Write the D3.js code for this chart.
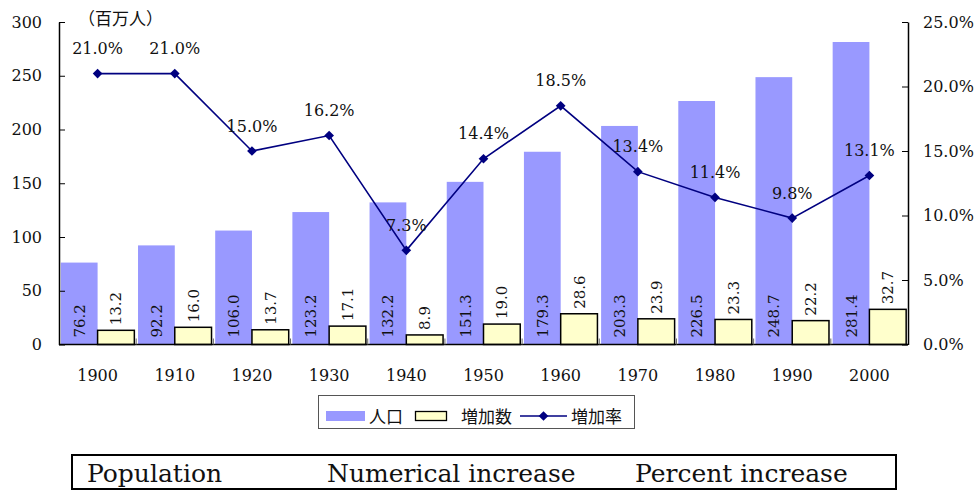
<!DOCTYPE html>
<html>
<head>
<meta charset="utf-8">
<script src="https://cdn.jsdelivr.net/npm/d3@7"></script>
<style>
  html, body { margin: 0; padding: 0; background: #fff; }
  svg { display: block; }
</style>
</head>
<body>
<svg id="chart" width="979" height="493"></svg>
<script>
// US population by decade (millions), numerical increase (millions), percent increase
const years = ["1900", "1910", "1920", "1930", "1940", "1950", "1960", "1970", "1980", "1990", "2000"];
const population = [76.2, 92.2, 106.0, 123.2, 132.2, 151.3, 179.3, 203.3, 226.5, 248.7, 281.4];
const increase = [13.2, 16.0, 13.7, 17.1, 8.9, 19.0, 28.6, 23.9, 23.3, 22.2, 32.7];
const rate = [21.0, 21.0, 15.0, 16.2, 7.3, 14.4, 18.5, 13.4, 11.4, 9.8, 13.1];
const leftTicks = [0, 50, 100, 150, 200, 250, 300];
const rightTicks = [0, 5, 10, 15, 20, 25];
const legendLabels = ["人口", "増加数", "増加率"];
const unitLabel = "（百万人）";
const captions = ["Population", "Numerical increase", "Percent increase"];

const SERIF = "'DejaVu Serif', serif";
const CJK = "'Noto Sans CJK JP', sans-serif";
const svg = d3.select("#chart");

const plot = { left: 59, right: 908, top: 22, bottom: 344.5 };

const x = d3.scaleBand().domain(years).range([plot.left, plot.right]).paddingInner(0).paddingOuter(0);
const inner = d3.scaleBand().domain(["pop", "inc"]).range([0, x.bandwidth()]).paddingInner(0).paddingOuter(0.05);
const yL = d3.scaleLinear().domain([0, 300]).range([plot.bottom, plot.top]);
const yR = d3.scaleLinear().domain([0, 25]).range([plot.bottom, plot.top]);

// population bars
svg.append("g").selectAll("rect").data(population).join("rect")
  .attr("x", (d, i) => x(years[i]) + inner("pop"))
  .attr("y", d => yL(d))
  .attr("width", inner.bandwidth())
  .attr("height", d => yL(0) - yL(d))
  .attr("fill", "#9999FF");

// increase bars
svg.append("g").selectAll("rect").data(increase).join("rect")
  .attr("x", (d, i) => x(years[i]) + inner("inc"))
  .attr("y", d => yL(d))
  .attr("width", inner.bandwidth())
  .attr("height", d => yL(0) - yL(d))
  .attr("fill", "#FFFFCC")
  .attr("stroke", "#000")
  .attr("stroke-width", 1.5);

// rotated value labels: population at the bar base, increase above the bar
svg.append("g").selectAll("text").data(population).join("text")
  .attr("transform", (d, i) => `translate(${x(years[i]) + inner("pop") + inner.bandwidth() / 2 + 5.5},${yL(0) - 7}) rotate(-90)`)
  .attr("font-family", SERIF).attr("font-size", 15).attr("fill", "#111")
  .text(d => d.toFixed(1));

svg.append("g").selectAll("text").data(increase).join("text")
  .attr("transform", (d, i) => `translate(${x(years[i]) + inner("inc") + inner.bandwidth() / 2 + 5.5},${yL(d) - 5}) rotate(-90)`)
  .attr("font-family", SERIF).attr("font-size", 15).attr("fill", "#111")
  .text(d => d.toFixed(1));

// category axis
const xAxis = svg.append("g").attr("transform", `translate(0,${plot.bottom})`);
xAxis.append("line").attr("x1", plot.left).attr("x2", plot.right).attr("stroke", "#000").attr("stroke-width", 1.5);
xAxis.selectAll("line.tick").data(years.slice(1)).join("line").attr("class", "tick")
  .attr("x1", d => x(d)).attr("x2", d => x(d)).attr("y1", 0).attr("y2", -6)
  .attr("stroke", "#666").attr("stroke-width", 1);
xAxis.selectAll("text").data(years).join("text")
  .attr("x", d => x(d) + x.bandwidth() / 2).attr("y", 36)
  .attr("text-anchor", "middle").attr("font-family", SERIF).attr("font-size", 16).attr("fill", "#111")
  .text(d => d);

// left axis
const leftAxis = svg.append("g").attr("transform", `translate(${plot.left},0)`)
  .call(d3.axisLeft(yL).tickValues(leftTicks).tickSizeInner(-6).tickSizeOuter(0).tickPadding(17));
leftAxis.select(".domain").attr("stroke-width", 1.5);
leftAxis.selectAll("text").attr("font-family", SERIF).attr("font-size", 16).attr("fill", "#111");

// right axis
const rightAxis = svg.append("g").attr("transform", `translate(${plot.right},0)`)
  .call(d3.axisRight(yR).tickValues(rightTicks).tickSizeInner(-6).tickSizeOuter(0).tickPadding(15)
    .tickFormat(d => d.toFixed(1) + "%"));
rightAxis.select(".domain").attr("stroke-width", 1.5);
rightAxis.selectAll("text").attr("font-family", SERIF).attr("font-size", 16).attr("fill", "#111");

// unit label
svg.append("text").attr("x", 78).attr("y", 25)
  .attr("font-family", CJK).attr("font-size", 17).attr("fill", "#111")
  .text(unitLabel);

// percent increase line
const cx = i => x(years[i]) + x.bandwidth() / 2;
const line = d3.line().x((d, i) => cx(i)).y(d => yR(d));
svg.append("path").datum(rate).attr("d", line)
  .attr("fill", "none").attr("stroke", "#000080").attr("stroke-width", 1.6);
const diamond = d3.symbol().type(d3.symbolDiamond2).size(60);
svg.append("g").selectAll("path").data(rate).join("path")
  .attr("transform", (d, i) => `translate(${cx(i)},${yR(d)})`)
  .attr("d", diamond).attr("fill", "#000080");
svg.append("g").selectAll("text").data(rate).join("text")
  .attr("x", (d, i) => cx(i)).attr("y", d => yR(d) - 19.5)
  .attr("text-anchor", "middle").attr("font-family", SERIF).attr("font-size", 16).attr("fill", "#111")
  .text(d => d.toFixed(1) + "%");

// legend
const lg = svg.append("g");
lg.append("rect").attr("x", 318.5).attr("y", 395.5).attr("width", 316).attr("height", 33)
  .attr("fill", "#fff").attr("stroke", "#555").attr("stroke-width", 1);
lg.append("rect").attr("x", 326).attr("y", 411).attr("width", 39).attr("height", 10).attr("fill", "#9999FF");
lg.append("text").attr("x", 369).attr("y", 423).attr("font-family", CJK).attr("font-size", 17).attr("fill", "#111").text(legendLabels[0]);
lg.append("rect").attr("x", 415.5).attr("y", 411.5).attr("width", 31).attr("height", 9)
  .attr("fill", "#FFFFCC").attr("stroke", "#000").attr("stroke-width", 1.3);
lg.append("text").attr("x", 461).attr("y", 423).attr("font-family", CJK).attr("font-size", 17).attr("fill", "#111").text(legendLabels[1]);
lg.append("line").attr("x1", 520).attr("x2", 567).attr("y1", 416).attr("y2", 416).attr("stroke", "#000080").attr("stroke-width", 1.6);
lg.append("path").attr("transform", "translate(543.5,416)").attr("d", diamond).attr("fill", "#000080");
lg.append("text").attr("x", 571).attr("y", 423).attr("font-family", CJK).attr("font-size", 17).attr("fill", "#111").text(legendLabels[2]);

// English caption box
const cap = svg.append("g");
cap.append("rect").attr("x", 72).attr("y", 455).attr("width", 824).attr("height", 34)
  .attr("fill", "none").attr("stroke", "#000").attr("stroke-width", 2);
const capX = [87, 327, 635];
cap.selectAll("text").data(captions).join("text")
  .attr("x", (d, i) => capX[i]).attr("y", 482)
  .attr("font-family", SERIF).attr("font-size", 25).attr("fill", "#111")
  .text(d => d);
</script>
</body>
</html>
